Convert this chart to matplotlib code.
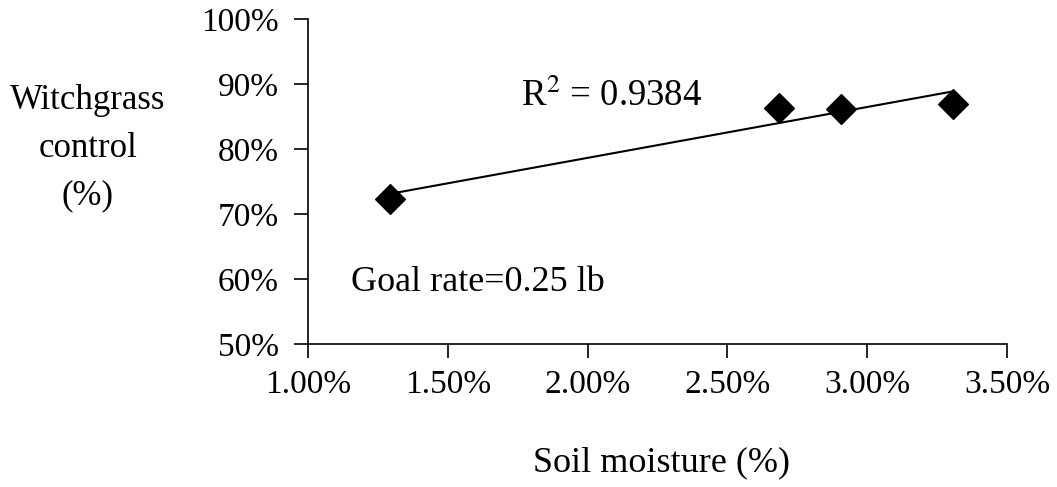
import numpy as np
import matplotlib
matplotlib.use("Agg")
import matplotlib.pyplot as plt

# soil moisture (%) vs witchgrass control (%)
soil_moisture = [1.293, 2.685, 2.907, 3.307]
control = [72.3, 86.3, 86.2, 86.9]

x_ticks = [1.0, 1.5, 2.0, 2.5, 3.0, 3.5]
x_labels = ["1.00%", "1.50%", "2.00%", "2.50%", "3.00%", "3.50%"]
y_ticks = [50, 60, 70, 80, 90, 100]
y_labels = ["50%", "60%", "70%", "80%", "90%", "100%"]

plt.rcParams["font.family"] = ["Liberation Serif", "DejaVu Serif"]

fig = plt.figure(figsize=(10.57, 4.87), dpi=100)
ax = fig.add_axes([0.2914, 0.2936, 0.6613, 0.6674])

# linear trend line through the points
slope, intercept = np.polyfit(soil_moisture, control, 1)
xs = np.array([min(soil_moisture), max(soil_moisture)])
ax.plot(xs, slope * xs + intercept, color="black", lw=1.5, zorder=2)

ax.scatter(soil_moisture, control, marker="D", s=230, color="black", zorder=3)

ax.set_xlim(1.0, 3.5)
ax.set_ylim(50, 100)
ax.set_xticks(x_ticks)
ax.set_xticklabels(x_labels)
ax.set_yticks(y_ticks)
ax.set_yticklabels(y_labels)
ax.tick_params(direction="out", length=10, width=1.2, labelsize=24)
ax.tick_params(axis="x", pad=8)
ax.tick_params(axis="y", pad=11)

for side in ["top", "right"]:
    ax.spines[side].set_visible(False)
for side in ["left", "bottom"]:
    ax.spines[side].set_linewidth(1.2)

ax.text(1.76, 88.0, r"R$^2$ = 0.9384", fontsize=26.5, ha="left", va="center",
        math_fontfamily="stix")
ax.text(1.155, 59.5, "Goal rate=0.25 lb", fontsize=26, ha="left", va="center")

fig.text(0.626, 0.049, "Soil moisture (%)", fontsize=26, ha="center", va="center")
fig.text(0.083, 0.696, "Witchgrass\ncontrol\n(%)", fontsize=25, ha="center",
         va="center", linespacing=1.6)

fig.savefig("out.png", dpi=100)
